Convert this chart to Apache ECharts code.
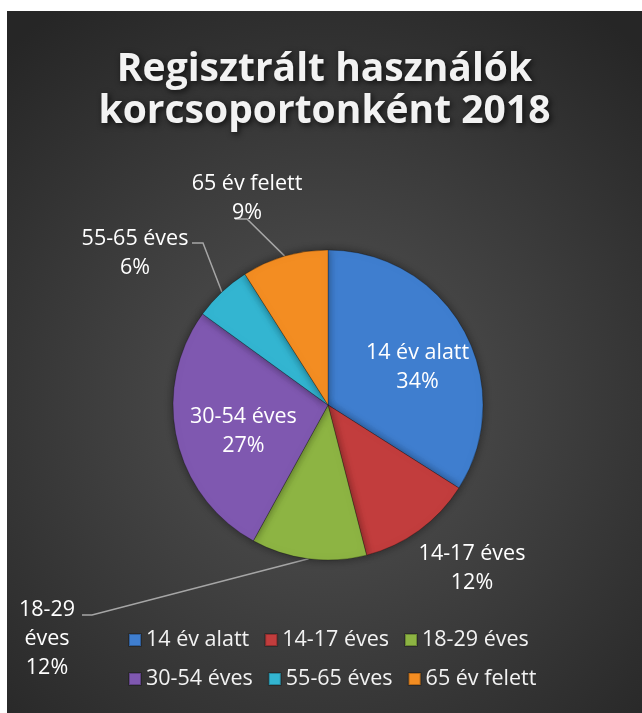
<!DOCTYPE html>
<html>
<head>
<meta charset="utf-8">
<script src="https://cdn.jsdelivr.net/npm/echarts@6/dist/echarts.min.js"></script>
<style>
  html, body { margin: 0; padding: 0; background: #fff; }
  #main { position: absolute; left: 7px; top: 11px; width: 635px; height: 702px; }
</style>
</head>
<body>
<div id="main"></div>
<script>
// korcsoportok és arányok (%)
var categories = ['14 év alatt', '14-17 éves', '18-29 éves', '30-54 éves', '55-65 éves', '65 év felett'];
var values = [34, 12, 12, 27, 6, 9];
var colors = ['#3f7ecf', '#c23d3d', '#8db443', '#7f58b0', '#33b5d1', '#f38d22'];

// címkék helye: inside / outside
var labelPlace = ['inside', 'outside', 'outside', 'inside', 'outside', 'outside'];

// címkék igazítása (px, a diagramon belül)
var labelBox = {
    0: { dx: 19, dy: 1 },
    1: { x: 465, y: 557, line: null },
    2: { x: 40, y: 628, text: '18-29\néves\n12%', elbow: [85, 604], end: [75, 604] },
    3: { dx: -6, dy: 9 },
    4: { x: 128, y: 242, elbow: [196, 232], end: [185, 232] },
    5: { x: 240, y: 187, elbow: [240, 208], end: [228, 208] }
};

var chart = echarts.init(document.getElementById('main'));

var pieData = [];
for (var i = 0; i < categories.length; i++) {
    var item = {
        name: categories[i],
        value: values[i],
        itemStyle: { color: colors[i] },
        label: { position: labelPlace[i] },
        labelLine: { show: labelPlace[i] === 'outside' && labelBox[i] && labelBox[i].line !== null }
    };
    if (labelBox[i] && labelBox[i].text) {
        item.label.formatter = labelBox[i].text;
    }
    pieData.push(item);
}

var option = {
    backgroundColor: new echarts.graphic.RadialGradient(0.5, 0.56, 0.75, [
        { offset: 0, color: '#545454' },
        { offset: 1, color: '#262626' }
    ]),
    title: {
        text: 'Regisztrált használók\nkorcsoportonként 2018',
        left: 'center',
        top: 33,
        textStyle: {
            fontFamily: 'Open Sans',
            fontWeight: 'bold',
            fontSize: 39,
            lineHeight: 42,
            color: '#f2f2f2',
            textShadowColor: 'rgba(0,0,0,0.75)',
            textShadowBlur: 6,
            textShadowOffsetX: 2,
            textShadowOffsetY: 2
        }
    },
    legend: {
        data: categories,
        left: 116,
        top: 612,
        width: 430,
        itemGap: 15,
        itemWidth: 12,
        itemHeight: 12,
        icon: 'rect',
        textStyle: {
            fontFamily: 'Open Sans',
            fontSize: 21.5,
            lineHeight: 24,
            color: '#f2f2f2'
        }
    },
    series: [{
        type: 'pie',
        center: [321, 394],
        radius: 155,
        startAngle: 90,
        clockwise: true,
        avoidLabelOverlap: false,
        itemStyle: {
            borderColor: 'rgba(0,0,0,0.25)',
            borderWidth: 1,
            shadowBlur: 8,
            shadowColor: 'rgba(0,0,0,0.45)'
        },
        label: {
            show: true,
            formatter: '{b}\n{d}%',
            color: '#ffffff',
            fontFamily: 'Open Sans',
            fontSize: 21.5,
            lineHeight: 29,
            align: 'center'
        },
        labelLine: {
            lineStyle: { color: '#a6a6a6', width: 1.5 },
            smooth: false
        },
        labelLayout: function (params) {
            var box = labelBox[params.dataIndex];
            if (!box) {
                return {};
            }
            if (box.x === undefined) {
                return { dx: box.dx, dy: box.dy };
            }
            var res = { x: box.x, y: box.y, align: 'center', verticalAlign: 'middle' };
            if (box.elbow && params.labelLinePoints) {
                res.labelLinePoints = [params.labelLinePoints[0], box.elbow, box.end];
            }
            return res;
        },
        data: pieData
    }]
};

chart.setOption(option);
</script>
</body>
</html>
